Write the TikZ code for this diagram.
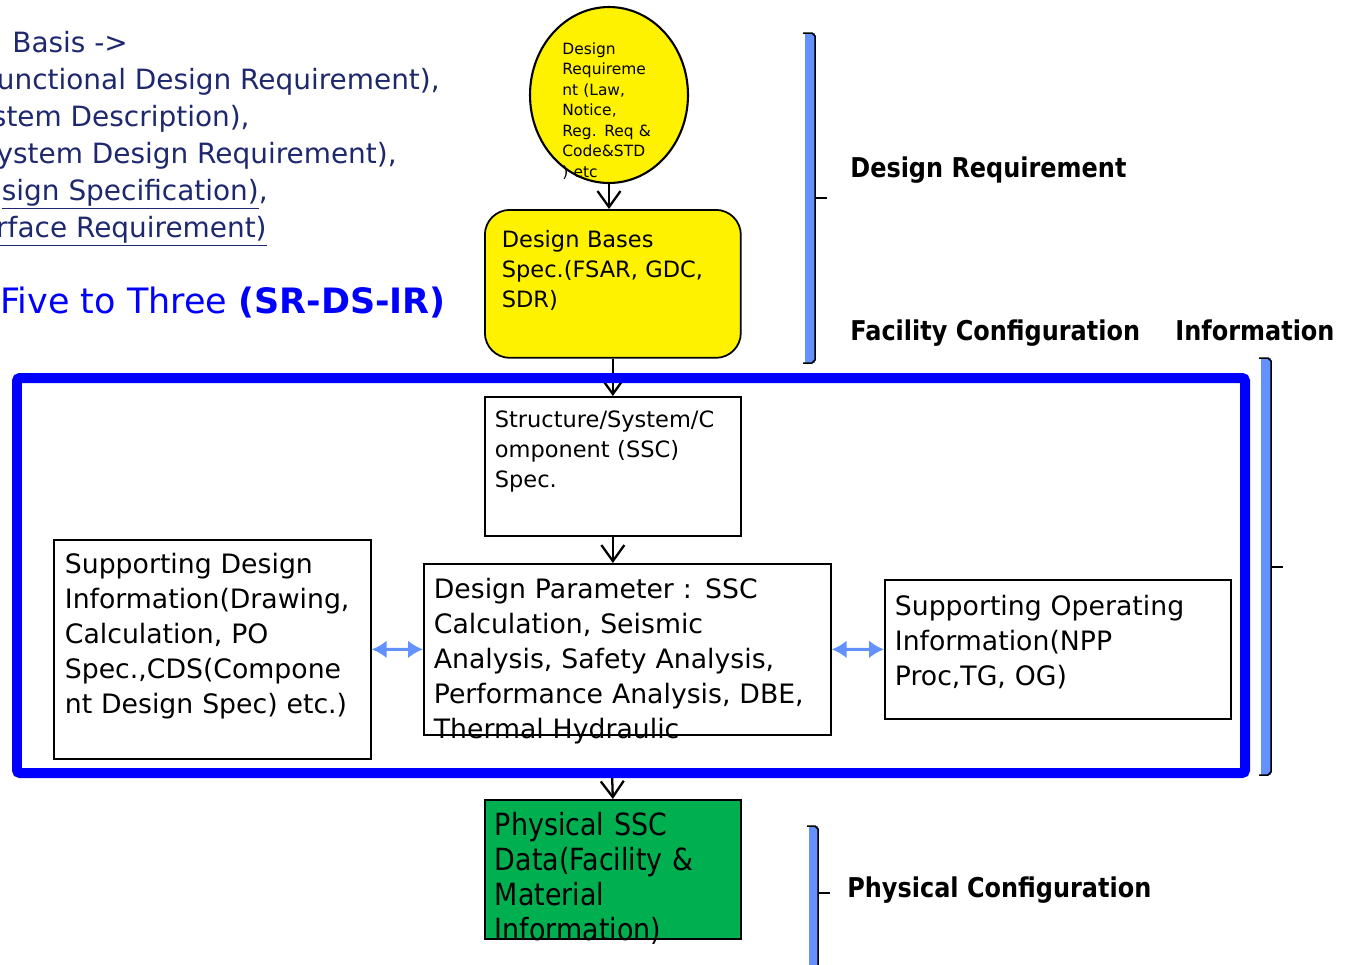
\documentclass[tikz,border=0pt]{standalone}
\usepackage{fontspec}
\setmainfont{DejaVu Sans}
\newfontfamily\narrowfont{DejaVu Sans}[FakeStretch=0.88]
\usetikzlibrary{shapes.geometric,arrows.meta}
\definecolor{navy}{RGB}{30,40,110}
\definecolor{barblue}{RGB}{99,146,255}
\definecolor{frameblue}{RGB}{0,0,255}
\definecolor{ssgreen}{RGB}{0,176,80}
\tikzset{
  box/.style={draw, line width=1pt, anchor=north west, align=left, inner ysep=0pt, inner xsep=0.2cm},
  arr/.style={-{Straight Barb[length=0.32cm,width=0.46cm]}, line width=1.3pt},
  dbl/.style={{Latex[length=0.3cm,width=0.36cm]}-{Latex[length=0.3cm,width=0.36cm]}, barblue, line width=0.06cm},
  sidelabel/.style={anchor=base west, inner sep=0pt, font=\narrowfont\bfseries\fontsize{15.5}{18}\selectfont},
  note/.style={anchor=base east, text=navy, inner sep=0pt, font=\fontsize{15.9}{21}\selectfont},
  small/.style={font=\fontsize{12.8}{17.1}\selectfont},
  mid/.style={font=\fontsize{15.2}{19.9}\selectfont}
}
\begin{document}
\begin{tikzpicture}[x=0.02cm, y=-0.02cm]
\useasboundingbox (0,0) rectangle (1369,964);
\clip (0,0) rectangle (1369,964);
\node[note, anchor=base west] (basis) at (12,52) {Basis ->};
\node[note] (fdr) at (440,89) {unctional Design Requirement),};
\node[note] (sdesc) at (250,126) {stem Description),};
\node[note] (sdr) at (397,163) {ystem Design Requirement),};
\node[note] (dspec) at (268,200) {\underline{sign Specification)},};
\node[note] (ireq) at (267,237) {\underline{rface Requirement)}};
\node[note, text=frameblue, font=\fontsize{19.9}{24}\selectfont] (five) at (446,313) {Five to Three \textbf{(SR-DS-IR)}};
\node[ellipse, draw, fill=yellow, line width=1.2pt, minimum width=3.16cm, minimum height=3.52cm] (req) at (609,95) {};
\node[anchor=base west, align=left, text width=2.2cm, inner sep=0pt, font=\fontsize{8.8}{11.67}\selectfont] (reqtext) at (562,54) {Design\\Requireme\\nt (Law,\\Notice,\\Reg. Req \&\\Code\&STD\\) etc};
\node[box, small, fill=yellow, rounded corners=0.5cm, inner xsep=0.34cm, text width=4.44cm, text height=0.76cm, text depth=2.2cm] (bases) at (484,209) {Design Bases\\Spec.(FSAR, GDC,\\SDR)};
\node[box, small, text width=4.72cm, text height=0.61cm, text depth=2.17cm] (ssc) at (484,396) {Structure/System/C\\omponent (SSC)\\Spec.};
\node[box, mid, text width=7.74cm, text height=0.7cm, text depth=2.72cm] (dp) at (423,563) {Design Parameter : SSC\\Calculation, Seismic\\Analysis, Safety Analysis,\\Performance Analysis, DBE,\\Thermal Hydraulic};
\node[box, mid, inner xsep=0.22cm, text width=5.9cm, text height=0.68cm, text depth=3.7cm] (sd) at (53,539) {Supporting Design\\Information(Drawing,\\Calculation, PO\\Spec.,CDS(Compone\\nt Design Spec) etc.)};
\node[box, mid, text width=6.52cm, text height=0.72cm, text depth=2.06cm] (so) at (884,579) {Supporting Operating\\Information(NPP\\Proc,TG, OG)};
\node[box, fill=ssgreen, text width=4.72cm, text height=0.72cm, text depth=2.06cm, font=\narrowfont\fontsize{17.4}{19.9}\selectfont] (phys) at (484,799) {Physical SSC\\Data(Facility \&\\Material\\Information)};
\coordinate (fbot) at (612,773);
\draw[arr] (req.south) -- (req.south |- bases.north);
\draw[arr] (bases) -- (ssc);
\draw[arr] (ssc.south) -- (ssc.south |- dp.north);
\draw[arr] (fbot) -- (phys.north);
\draw[dbl] (sd.east) -- (dp.west);
\draw[dbl] (dp.east) -- (so.west);
\draw[frameblue, line width=0.2cm, rounded corners=0.06cm] (17,378) rectangle (1245,773);
\foreach \xl/\xr/\yt/\yb/\yk in {805/815/33/363/198, 1261/1271/358/775/567, 809/818/826/975/893}{
  \fill[barblue] (\xl,\yt) rectangle (\xr,\yb);
  \draw[line width=0.03cm] (\xl-2,\yt) -- (\xr-3,\yt) -- (\xr,\yt+3) -- (\xr,\yb-3) -- (\xr-3,\yb) -- (\xl-2,\yb);
  \draw[line width=0.03cm] (\xr,\yk) -- (\xr+12,\yk);
}
\node[sidelabel] (dreqlabel) at (850,177) {Design Requirement};
\node[sidelabel] (fcilabel) at (850,340) {Facility Configuration\hspace{1.3em}Information};
\node[sidelabel] (physlabel) at (847,897) {Physical Configuration};
\end{tikzpicture}
\end{document}
